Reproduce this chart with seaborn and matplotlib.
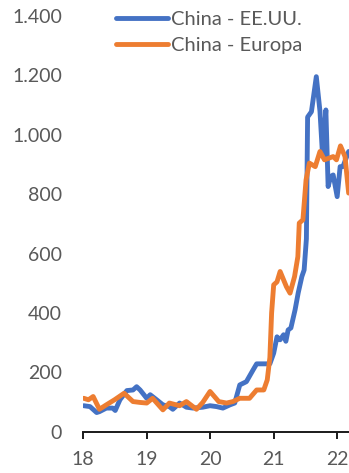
import matplotlib
matplotlib.use("Agg")
import matplotlib.pyplot as plt
import matplotlib.ticker as mticker
import pandas as pd
import seaborn as sns

# Freight rate index, China - EE.UU. route
usa_dates = [
    "2018-01-05", "2018-02-10", "2018-03-20", "2018-04-05", "2018-05-15",
    "2018-06-20", "2018-07-05", "2018-08-01", "2018-09-10", "2018-10-15",
    "2018-11-05", "2018-11-25", "2019-01-02", "2019-01-22", "2019-02-28",
    "2019-04-05", "2019-05-12", "2019-06-01", "2019-07-10", "2019-08-18",
    "2019-09-25", "2019-11-20", "2020-01-01", "2020-02-08", "2020-03-15",
    "2020-04-25", "2020-05-22", "2020-06-20", "2020-07-28", "2020-09-05",
    "2020-09-25", "2020-12-10", "2021-01-01", "2021-01-20", "2021-02-07",
    "2021-02-27", "2021-03-12", "2021-03-25", "2021-04-10", "2021-05-04",
    "2021-05-22", "2021-06-12", "2021-06-25", "2021-07-08", "2021-07-15",
    "2021-08-06", "2021-09-03", "2021-09-24", "2021-10-09", "2021-10-28",
    "2021-11-10", "2021-11-25", "2021-12-09", "2022-01-01", "2022-01-18",
    "2022-02-03", "2022-03-08",
]
usa_values = [
    88, 85, 65, 68, 80,
    80, 72, 108, 139, 141,
    152, 141, 113, 125, 108,
    91, 85, 76, 97, 83,
    80, 83, 88, 85, 80,
    91, 97, 158, 169, 209,
    229, 229, 265, 320, 310,
    327, 305, 343, 350, 411,
    468, 523, 545, 650, 1060,
    1078, 1196, 1080, 930, 1084,
    826, 860, 865, 792, 893,
    893, 944,
]

# Freight rate index, China - Europa route
eu_dates = [
    "2018-01-05", "2018-02-01", "2018-02-28", "2018-04-05", "2018-05-15",
    "2018-07-01", "2018-08-25", "2018-10-15", "2018-11-25", "2019-01-02",
    "2019-02-05", "2019-04-05", "2019-05-12", "2019-07-10", "2019-08-18",
    "2019-10-15", "2019-11-20", "2020-01-01", "2020-02-20", "2020-04-05",
    "2020-05-12", "2020-06-20", "2020-08-15", "2020-09-25", "2020-11-05",
    "2020-11-25", "2020-12-10", "2020-12-20", "2021-01-01", "2021-01-20",
    "2021-02-07", "2021-03-15", "2021-04-05", "2021-05-01", "2021-05-20",
    "2021-05-28", "2021-06-18", "2021-07-06", "2021-07-25", "2021-08-28",
    "2021-09-24", "2021-10-20", "2021-12-09", "2021-12-28", "2022-01-20",
    "2022-02-15", "2022-03-08",
]
eu_values = [
    113, 108, 119, 76, 91,
    108, 130, 102, 99, 97,
    113, 74, 97, 88, 102,
    76, 99, 136, 102, 97,
    102, 113, 113, 141, 141,
    175, 250, 400, 495, 505,
    540, 489, 467, 523, 590,
    703, 714, 848, 905, 893,
    944, 916, 927, 916, 963,
    927, 804,
]

series_names = ["China - EE.UU.", "China - Europa"]
series_colors = ["#4472C4", "#ED7D31"]
year_labels = ["18", "19", "20", "21", "22"]

df = pd.concat([
    pd.DataFrame({"fecha": pd.to_datetime(usa_dates), "valor": usa_values,
                  "ruta": series_names[0]}),
    pd.DataFrame({"fecha": pd.to_datetime(eu_dates), "valor": eu_values,
                  "ruta": series_names[1]}),
], ignore_index=True)

sns.set_theme(style="white")
plt.rcParams["font.family"] = ["Lato", "DejaVu Sans"]
text_color = "#595959"

fig = plt.figure(figsize=(3.49, 4.73), dpi=100)
ax = fig.add_axes([0.238, 0.087, 0.762, 0.879])

sns.lineplot(data=df, x="fecha", y="valor", hue="ruta",
             palette=dict(zip(series_names, series_colors)),
             linewidth=3.5, ax=ax, legend=True)

ax.set_ylim(0, 1400)
ax.set_xlim(pd.Timestamp("2018-01-01"), pd.Timestamp("2022-03-10"))
ax.yaxis.set_major_locator(mticker.MultipleLocator(200))
ax.yaxis.set_major_formatter(
    mticker.FuncFormatter(lambda v, p: f"{int(v):,}".replace(",", ".")))

tick_dates = pd.to_datetime([f"20{y}-01-01" for y in year_labels])
ax.set_xticks(tick_dates)
ax.set_xticklabels(year_labels)

ax.set_xlabel("")
ax.set_ylabel("")
for side in ["left", "right", "top"]:
    ax.spines[side].set_visible(False)
ax.spines["bottom"].set_color("#1a1a1a")
ax.spines["bottom"].set_linewidth(1.4)

ax.tick_params(axis="y", length=0, pad=15, labelsize=14, labelcolor=text_color)
ax.tick_params(axis="x", direction="out", length=5, width=1.4, color="#1a1a1a",
               bottom=True, pad=9, labelsize=14, labelcolor=text_color)
ax.grid(False)

handles, labels = ax.get_legend_handles_labels()
leg = ax.legend(handles, labels, loc="upper left",
                bbox_to_anchor=(0.3, 1.0), bbox_transform=fig.transFigure,
                frameon=False, fontsize=14.5, handlelength=2.6,
                handletextpad=0.15, labelspacing=0.45, borderaxespad=0.15)
for t in leg.get_texts():
    t.set_color(text_color)
for h in leg.get_lines():
    h.set_linewidth(3.5)

fig.savefig("out.png", dpi=100)
